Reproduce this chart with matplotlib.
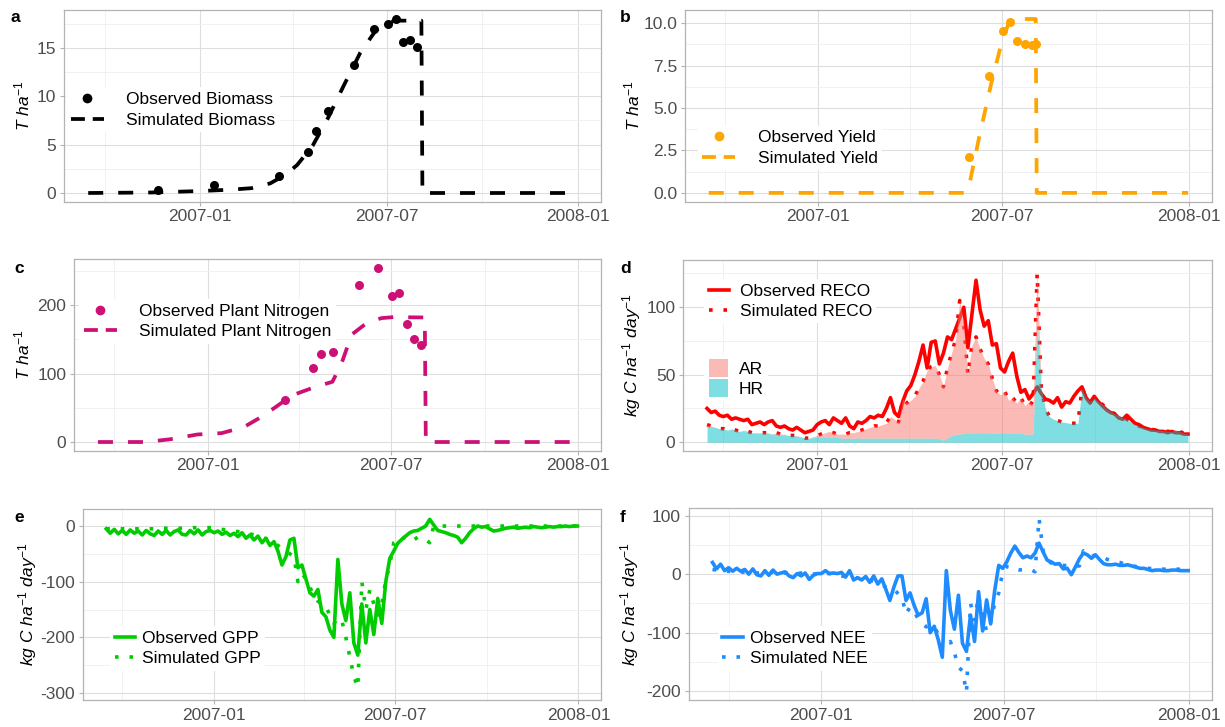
import matplotlib
matplotlib.use('Agg')
import matplotlib.pyplot as plt
import matplotlib.dates as mdates
from matplotlib.lines import Line2D
from matplotlib.patches import Patch
import pandas as pd

plt.rcParams['font.family'] = ['Liberation Sans', 'DejaVu Sans']
plt.rcParams['mathtext.fontset'] = 'custom'
plt.rcParams['mathtext.rm'] = 'Liberation Sans'
plt.rcParams['mathtext.it'] = 'Liberation Sans:italic'
plt.rcParams['axes.unicode_minus'] = False

# ---- crop data (panels a-c) ----
obs_biomass_dates = ['2006-11-21', '2007-01-15', '2007-03-18', '2007-04-15', '2007-04-23', '2007-05-05',
                     '2007-05-30', '2007-06-18', '2007-07-02', '2007-07-09', '2007-07-16', '2007-07-23',
                     '2007-07-30']
obs_biomass = [0.28, 0.8, 1.8, 4.2, 6.4, 8.5, 13.25, 16.9, 17.5, 18.0, 15.6, 15.8, 15.1]

sim_biomass_dates = ['2006-09-15', '2006-11-15', '2007-01-01', '2007-02-01', '2007-02-20', '2007-03-10',
                     '2007-03-25', '2007-04-05', '2007-04-20', '2007-05-05', '2007-05-20', '2007-06-05',
                     '2007-06-20', '2007-07-01', '2007-07-10', '2007-08-03', '2007-08-04', '2007-12-31']
sim_biomass = [0, 0.05, 0.2, 0.35, 0.5, 1.0, 1.9, 2.9, 4.9, 7.8, 11.1, 14.5, 16.8, 17.6, 17.8, 17.8, 0, 0]

obs_yield_dates = ['2007-05-29', '2007-06-18', '2007-07-02', '2007-07-09', '2007-07-16', '2007-07-23',
                   '2007-07-30', '2007-08-03']
obs_yield = [2.13, 6.9, 9.55, 10.08, 8.97, 8.78, 8.72, 8.75]

sim_yield_dates = ['2006-09-15', '2007-05-25', '2007-05-29', '2007-06-08', '2007-06-20', '2007-07-01',
                   '2007-07-08', '2007-07-12', '2007-08-03', '2007-08-04', '2007-12-31']
sim_yield = [0, 0, 0.3, 3.2, 6.4, 9.0, 10.1, 10.25, 10.25, 0, 0]

obs_n_dates = ['2007-03-18', '2007-04-15', '2007-04-23', '2007-05-05', '2007-05-30', '2007-06-18',
               '2007-07-02', '2007-07-09', '2007-07-16', '2007-07-23', '2007-07-30']
obs_n = [62, 108, 129, 132, 230, 254, 214, 218, 172, 151, 142]

sim_n_dates = ['2006-09-15', '2006-11-01', '2006-11-25', '2006-12-22', '2007-01-15', '2007-02-06',
               '2007-02-21', '2007-03-09', '2007-03-25', '2007-04-16', '2007-05-04', '2007-05-13',
               '2007-05-23', '2007-06-06', '2007-06-21', '2007-07-03', '2007-08-03', '2007-08-04',
               '2007-12-31']
sim_n = [0, 0, 4, 11, 13, 22, 35, 51, 68, 80, 88, 115, 157, 173, 181, 182.5, 182, 0, 0]

# ---- fluxes (panels d-f), read every 4 days from 2006-09-15 to 2007-12-31 ----
flux_dates = pd.date_range('2006-09-15', '2007-12-31', freq='4D')

reco_obs = [25, 22, 23, 20, 19, 20, 17, 18, 17, 16, 17, 13, 14, 15, 13, 15, 16, 12, 11, 12,
            10, 9, 11, 9, 7, 8, 9,
            13, 15, 16, 13, 18, 16, 14, 18, 12, 10, 15, 14, 16, 19, 18, 20, 19, 25, 33, 22, 19,
            30, 38, 42, 50, 60, 72, 55, 74, 75, 58, 66, 78, 76, 84, 92, 100, 70, 95, 120, 98,
            86, 90, 72, 73, 55, 52, 60, 66, 49, 37, 39, 32, 36,
            41, 36, 32, 31, 29, 33, 26, 30, 29, 34, 38, 41, 33, 29, 34, 30, 27, 24, 22, 21,
            18, 17, 20, 17, 14, 13, 11, 10, 9, 9, 8, 8, 7, 8, 7, 7, 6, 6]

hr = [12, 11.5, 11, 10, 10, 9, 9.5, 9, 8, 8.5, 8, 7, 7, 6.5, 6.5, 6.5, 6, 6, 5.5, 5.5,
      5, 5, 4.5, 4, 3, 3, 3.5,
      4, 4, 4, 4, 3.5, 3.5, 3, 3, 3, 3, 3, 3, 3, 3, 3, 3, 3, 3, 3, 3, 3,
      3, 3, 3, 3, 3, 3, 3, 3, 3, 2.5, 1.5, 3, 5, 6, 6, 6.5, 6.5, 7, 7, 7,
      7, 7, 6.5, 6.5, 7, 7, 7, 6.5, 6.5, 6.5, 6, 6, 6,
      90, 40, 25, 19, 17, 16, 15, 14.5, 14, 14, 14, 40, 33, 30, 33, 30, 28, 25, 23, 21,
      20, 18, 17, 15, 13, 12, 11, 10, 9.5, 9, 9, 8.5, 8, 8, 9, 8, 6.5, 6]

ar = [1, 0.5, 0, 0, 0, 0, 0.5, 0, 0, 0.5, 0, 0, 0, 0.5, 0.5, 0.5, 0, 1, 0.5, 0.5,
      0, 0, 0.5, 0, 0, 0, 0.5,
      1, 2, 3, 4, 3.5, 2.5, 3, 3, 4, 4, 5, 6, 7, 8, 9, 9, 10, 11, 16, 14, 12,
      29, 26, 28, 31, 37, 42, 50, 53, 54, 47.5, 39.5, 52, 61, 70, 99, 81.5, 43.5, 65, 71, 62,
      55, 51, 40.5, 31.5, 28, 31, 24, 26.5, 22.5, 26.5, 21, 24, 22,
      35, 0, 0, 0, 0, 0, 0, 0, 0, 0, 0, 0, 0, 0, 0, 0, 0, 0, 0, 0,
      0, 0, 0, 0, 0, 0, 0, 0, 0, 0, 0, 0, 0, 0, 0, 0, 0, 0]

gpp_obs = [-5, -13, -6, -14, -8, -15, -7, -13, -9, -16, -8, -14, -17, -9, -15, -8, -16, -10, -7, -15,
           -16, -8, -14, -7, -16, -10, -8,
           -12, -9, -15, -11, -17, -13, -19, -12, -22, -16, -25, -18, -30, -22, -35, -28, -45, -70, -55,
           -25, -22,
           -75, -70, -95, -120, -126, -114, -155, -163, -187, -200, -60, -140, -170, -120, -210, -232,
           -140, -210, -150, -195, -130, -175, -100, -58, -45, -31, -24, -18, -12, -9, -8, -4, 0,
           12, 2, -8, -10, -12, -15, -17, -20, -30, -22, -12, -5, 0, -2, -1, -5, -9, -8, -6, -4,
           -3, -2, -4, -3, -2, -3, -1, -2, -3, -2, -1, -2, -1, -1, 0, -1, 0, 0]

gpp_sim = [-5, -5, -5, -5, -5, -5, -5, -5, -5, -5, -5, -5, -5, -4, -4, -4, -4, -4, -4, -4,
           -4, -4, -3, -3, -3, -3, -3,
           -4, -5, -6, -7, -8, -9, -10, -11, -12, -14, -16, -18, -20, -23, -26, -30, -35, -40, -45,
           -50, -55,
           -100, -85, -95, -110, -125, -135, -140, -145, -160, -175, -165, -170, -200, -235, -270, -290,
           -100, -150, -115, -140, -160, -140, -97, -70, -30, -25, -18, -25, -22, -25, -20, -22, -24,
           -30, 0, 0, 0, 0, 0, 0, 0, 0, 0, 0, 0, 0, 0, 0, 0, 0, 0, 0, 0,
           0, 0, 0, 0, 0, 0, 0, 0, 0, 0, 0, 0, 0, 0, 0, 0, 0, 0]

df = pd.DataFrame({'date': flux_dates, 'reco_obs': reco_obs, 'ar': ar, 'hr': hr,
                   'gpp_obs': gpp_obs, 'gpp_sim': gpp_sim})
df['reco_sim'] = df['ar'] + df['hr']
df['nee_obs'] = df['reco_obs'] + df['gpp_obs']
df['nee_sim'] = df['reco_sim'] + df['gpp_sim']

W, H = 1225, 727
fig = plt.figure(figsize=(W / 100, H / 100), dpi=100)

def px_axes(l, t, r, b):
    return fig.add_axes([l / W, 1 - b / H, (r - l) / W, (b - t) / H])

t0 = mdates.date2num(pd.Timestamp('2006-09-15'))
t1 = mdates.date2num(pd.Timestamp('2007-12-31'))
pad = 0.05 * (t1 - t0)
major_x = [pd.Timestamp(d) for d in ['2007-01-01', '2007-07-01', '2008-01-01']]
minor_x = [pd.Timestamp(d) for d in ['2006-10-01', '2007-04-01', '2007-10-01']]
FS = 12.5

def style(ax, ylim, yticks, yminor, fmt=None):
    ax.set_xlim(t0 - pad, t1 + pad)
    ax.set_ylim(ylim)
    ax.set_xticks(major_x)
    ax.set_xticks(minor_x, minor=True)
    ax.xaxis.set_major_formatter(mdates.DateFormatter('%Y-%m'))
    ax.set_yticks(yticks)
    ax.set_yticks(yminor, minor=True)
    if fmt:
        ax.set_yticklabels([fmt.format(v) for v in yticks])
    ax.grid(which='major', color='#DEDEDE', lw=0.8)
    ax.grid(which='minor', color='#EFEFEF', lw=0.6)
    ax.set_axisbelow(True)
    for s in ax.spines.values():
        s.set_color('#B3B3B3')
        s.set_linewidth(0.9)
    ax.tick_params(which='major', length=3, color='#B3B3B3', labelsize=FS,
                   labelcolor='#4D4D4D', pad=2.5)
    ax.tick_params(which='minor', length=0)

def legend(ax, handles, labels, x, y, **kw):
    lg = ax.legend(handles, labels, loc='center left', bbox_to_anchor=(x, y), frameon=True,
                   facecolor='white', edgecolor='none', framealpha=1, fontsize=FS,
                   borderpad=0.25, borderaxespad=0, **kw)
    ax.add_artist(lg)
    return lg

DASH = (0, (4, 4))
KEY_DASH = (0, (3.7, 2.1))
DOT = (0, (1, 3))
LW = 2.6

def crop_panel(ax, od, ov, sd, sv, color, obs_lab, sim_lab):
    ax.plot(pd.to_datetime(sd), sv, color=color, lw=2.7, ls=DASH)
    ax.plot(pd.to_datetime(od), ov, 'o', color=color, ms=6.5, mec='none')
    return [Line2D([], [], ls='none', marker='o', color=color, ms=7, mec='none'),
            Line2D([], [], color=color, lw=2.7, ls=KEY_DASH)], [obs_lab, sim_lab]

# a
ax = px_axes(63.8, 10, 601, 201.7)
h, l = crop_panel(ax, obs_biomass_dates, obs_biomass, sim_biomass_dates, sim_biomass, 'black',
                  'Observed Biomass', 'Simulated Biomass')
style(ax, (-0.9, 18.9), [0, 5, 10, 15], [2.5, 7.5, 12.5, 17.5])
legend(ax, h, l, 0.005, 0.48, handlelength=1.9, handletextpad=1.3, labelspacing=0.32)

# b
ax = px_axes(684.8, 10, 1212, 201.7)
h, l = crop_panel(ax, obs_yield_dates, obs_yield, sim_yield_dates, sim_yield, '#FFA500',
                  'Observed Yield', 'Simulated Yield')
style(ax, (-0.52, 10.78), [0, 2.5, 5, 7.5, 10], [1.25, 3.75, 6.25, 8.75], fmt='{:.1f}')
legend(ax, h, l, 0.025, 0.28, handlelength=1.9, handletextpad=1.3, labelspacing=0.32)

# c
ax = px_axes(74, 259.3, 601, 450.7)
h, l = crop_panel(ax, obs_n_dates, obs_n, sim_n_dates, sim_n, '#CD1076',
                  'Observed Plant Nitrogen', 'Simulated Plant Nitrogen')
style(ax, (-12.7, 267), [0, 100, 200], [50, 150, 250])
legend(ax, h, l, 0.01, 0.675, handlelength=1.9, handletextpad=1.3, labelspacing=0.32)

# d
ax = px_axes(683, 260, 1212, 450.7)
ax.plot(df['date'], df['reco_obs'], color='red', lw=LW)
ax.plot(df['date'], df['reco_sim'], color='red', lw=LW, ls=DOT)
ax.fill_between(df['date'], 0, df['hr'], color='#00BFC4', alpha=0.5, lw=0, zorder=3)
ax.fill_between(df['date'], df['hr'], df['hr'] + df['ar'], color='#F8766D', alpha=0.5, lw=0, zorder=3)
style(ax, (-6.3, 135), [0, 50, 100], [25, 75, 125])
legend(ax, [Line2D([], [], color='red', lw=LW), Line2D([], [], color='red', lw=LW, ls=DOT)],
       ['Observed RECO', 'Simulated RECO'], 0.04, 0.783,
       handlelength=1.2, handletextpad=0.6, labelspacing=0.3)
legend(ax, [Patch(facecolor='#F8766D', alpha=0.5, lw=0), Patch(facecolor='#00BFC4', alpha=0.5, lw=0)],
       ['AR', 'HR'], 0.04, 0.38, handlelength=1.15, handleheight=1.2,
       handletextpad=0.6, labelspacing=0.12)

# e
ax = px_axes(82.7, 509, 601, 700)
ax.plot(df['date'], df['gpp_obs'], color='#00CD00', lw=LW)
ax.plot(df['date'], df['gpp_sim'], color='#00CD00', lw=LW, ls=DOT)
style(ax, (-312.6, 30.6), [-300, -200, -100, 0], [-250, -150, -50])
legend(ax, [Line2D([], [], color='#00CD00', lw=LW), Line2D([], [], color='#00CD00', lw=LW, ls=DOT)],
       ['Observed GPP', 'Simulated GPP'], 0.053, 0.27,
       handlelength=1.2, handletextpad=0.4, labelspacing=0.32)

# f
ax = px_axes(688.7, 508.3, 1212, 700)
ax.plot(df['date'], df['nee_obs'], color='#1E8CFF', lw=LW)
ax.plot(df['date'], df['nee_sim'], color='#1E8CFF', lw=LW, ls=DOT)
style(ax, (-215, 112.5), [-200, -100, 0, 100], [-150, -50, 50])
legend(ax, [Line2D([], [], color='#1E8CFF', lw=LW), Line2D([], [], color='#1E8CFF', lw=LW, ls=DOT)],
       ['Observed NEE', 'Simulated NEE'], 0.056, 0.269,
       handlelength=1.2, handletextpad=0.4, labelspacing=0.32)

# panel letters and axis titles
for letter, x, y in [('a', 10, 18), ('b', 620, 18), ('c', 14, 268),
                     ('d', 620, 268), ('e', 14, 517), ('f', 620, 517)]:
    fig.text(x / W, 1 - y / H, letter, fontsize=12.5, fontweight='bold', ha='left', va='center')

t_ha = r'$T\ ha^{-1}$'
kg = r'$kg\ C\ ha^{-1}\ day^{-1}$'
for lab, x, y in [(t_ha, 22, 106), (t_ha, 632, 106), (t_ha, 22, 355),
                  (kg, 632, 355), (kg, 28, 604), (kg, 630, 604)]:
    fig.text(x / W, 1 - y / H, lab, fontsize=FS, rotation=90, ha='center', va='center')

fig.savefig('out.png', dpi=100)
